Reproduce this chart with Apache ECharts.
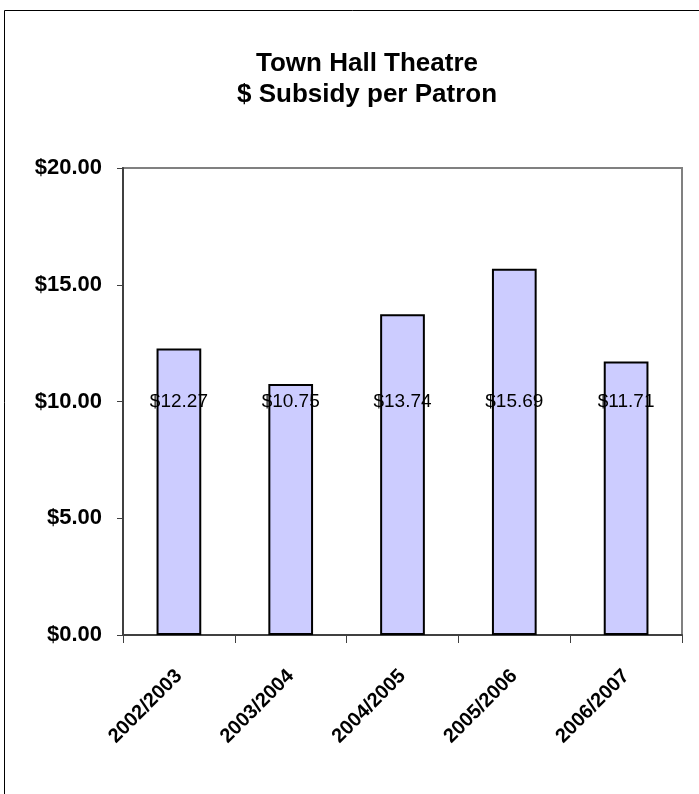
<!DOCTYPE html>
<html>
<head>
<meta charset="utf-8">
<style>
  html, body { margin: 0; padding: 0; background: #fff; }
  #chart { width: 699px; height: 794px; }
</style>
<script src="https://cdn.jsdelivr.net/npm/echarts@6/dist/echarts.min.js"></script>
</head>
<body>
<div id="chart"></div>
<script>
// Subsidy per patron by season
const seasons = ['2002/2003', '2003/2004', '2004/2005', '2005/2006', '2006/2007'];
const subsidyPerPatron = [12.27, 10.75, 13.74, 15.69, 11.71];
const yTicks = [0, 5, 10, 15, 20];

const money = v => '$' + v.toFixed(2);

const chart = echarts.init(document.getElementById('chart'), null, { renderer: 'canvas' });

chart.setOption({
  animation: false,
  backgroundColor: '#ffffff',
  title: {
    text: 'Town Hall Theatre\n$ Subsidy per Patron',
    left: 362,
    top: 43,
    textAlign: 'center',
    textStyle: {
      fontFamily: '"Liberation Sans", Arial, sans-serif',
      fontWeight: 'bold',
      fontSize: 26,
      lineHeight: 31,
      color: '#000'
    }
  },
  graphic: [{
    type: 'rect',
    silent: true,
    shape: { x: 4.5, y: 10.5, width: 1000, height: 1000 },
    style: { fill: 'none', stroke: '#000', lineWidth: 1 }
  }],
  grid: {
    left: 123,
    right: 17,
    top: 168,
    bottom: 159,
    show: true,
    borderColor: '#808080',
    borderWidth: 2,
    backgroundColor: 'transparent'
  },
  xAxis: {
    type: 'category',
    data: seasons,
    axisLine: { lineStyle: { color: '#404040', width: 2 } },
    axisTick: { show: true, length: 8, lineStyle: { color: '#404040', width: 1 } },
    axisLabel: {
      rotate: 45,
      margin: 38,
      color: '#000',
      fontFamily: '"Liberation Sans", Arial, sans-serif',
      fontWeight: 'bold',
      fontSize: 20,
      interval: 0
    },
    splitLine: { show: false }
  },
  yAxis: {
    type: 'value',
    min: yTicks[0],
    max: yTicks[yTicks.length - 1],
    interval: yTicks[1] - yTicks[0],
    axisLine: { show: true, lineStyle: { color: '#404040', width: 2 } },
    axisTick: { show: true, length: 6, lineStyle: { color: '#404040', width: 1 } },
    axisLabel: {
      margin: 21,
      color: '#000',
      fontFamily: '"Liberation Sans", Arial, sans-serif',
      fontWeight: 'bold',
      fontSize: 22,
      formatter: money
    },
    splitLine: { show: false }
  },
  series: [{
    type: 'bar',
    data: subsidyPerPatron,
    barWidth: '40%',
    itemStyle: { color: '#ccccff', borderColor: '#000', borderWidth: 2 },
    label: {
      show: true,
      position: 'insideBottom',
      distance: 224,
      color: '#000',
      fontFamily: '"Liberation Sans", Arial, sans-serif',
      fontSize: 19,
      formatter: p => money(p.value)
    }
  }]
});
</script>
</body>
</html>
